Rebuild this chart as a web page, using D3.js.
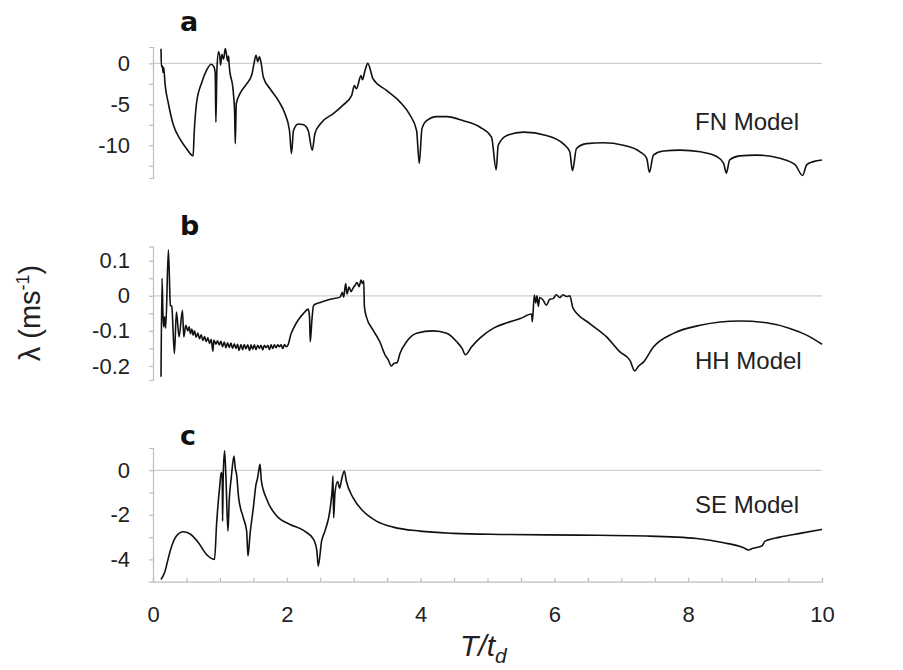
<!DOCTYPE html>
<html>
<head>
<meta charset="utf-8">
<script src="https://cdn.jsdelivr.net/npm/d3@7"></script>
<style>
  html, body { margin: 0; padding: 0; background: #fff; }
  svg { display: block; font-family: "Liberation Sans", Arial, sans-serif; }
</style>
</head>
<body>
<svg id="chart" width="903" height="670"></svg>
<script>
// ---------------- data (x = T/t_d, y = lambda) ----------------
const panelLetters = ["a", "b", "c"];
const modelNames = ["FN Model", "HH Model", "SE Model"];
const xTickLabels = [0, 2, 4, 6, 8, 10];

const fnSeries = [[0.12,1.8],[0.125,-0.4],[0.14,-0.3],[0.15,-1.1],[0.16,-0.5],[0.18,-2.5],[0.23,-4.9],[0.30,-7.4],[0.40,-9.2],[0.50,-10.4],[0.60,-11.3],[0.615,-8.6],[0.65,-4.9],[0.73,-2.3],[0.80,-0.85],[0.87,-0.1],[0.91,-0.4],[0.93,-1.2],[0.94,-7.2],[0.955,-0.85],[0.98,1.4],[1.0,0.7],[1.01,-0.2],[1.03,1.1],[1.055,0.5],[1.08,1.8],[1.10,1.0],[1.115,0.3],[1.13,0.9],[1.14,-0.3],[1.20,-3.5],[1.22,-6.0],[1.23,-9.8],[1.245,-4.9],[1.30,-3.7],[1.40,-2.5],[1.48,-1.3],[1.51,0],[1.54,1.0],[1.565,0.2],[1.59,0.8],[1.615,0.1],[1.65,-1.7],[1.75,-3.1],[1.87,-4.5],[1.97,-6.1],[2.04,-8.2],[2.07,-11.0],[2.10,-8.2],[2.17,-7.4],[2.25,-7.5],[2.32,-8.2],[2.38,-10.6],[2.42,-8.6],[2.50,-7.4],[2.70,-6.1],[2.84,-5.1],[2.97,-3.9],[3.01,-2.7],[3.04,-3.1],[3.11,-1.5],[3.13,-2.0],[3.17,-0.85],[3.21,0],[3.29,-1.9],[3.49,-3.3],[3.69,-4.7],[3.84,-6.3],[3.94,-8.2],[3.98,-12.2],[4.02,-8.0],[4.09,-7.0],[4.24,-6.5],[4.39,-6.5],[4.64,-7.0],[4.89,-7.8],[5.06,-9.0],[5.13,-13.0],[5.16,-10.0],[5.29,-8.8],[5.54,-8.4],[5.88,-8.8],[6.13,-9.8],[6.23,-10.8],[6.27,-13.1],[6.33,-10.4],[6.48,-9.8],[6.73,-9.7],[7.03,-10.0],[7.28,-10.8],[7.38,-11.6],[7.42,-13.3],[7.48,-11.2],[7.63,-10.7],[7.88,-10.6],[8.18,-10.8],[8.43,-11.4],[8.53,-12.2],[8.57,-13.4],[8.62,-11.8],[8.77,-11.3],[9.02,-11.2],[9.37,-11.6],[9.60,-12.4],[9.71,-13.7],[9.77,-12.4],[9.87,-12.0],[10.0,-11.8]];

const hhSeries = [[0.12,-0.231],[0.135,0.05],[0.15,-0.06],[0.16,-0.089],[0.175,-0.06],[0.19,-0.092],[0.23,0.131],[0.26,-0.027],[0.28,-0.03],[0.32,-0.165],[0.35,-0.046],[0.39,-0.117],[0.44,-0.041],[0.46,-0.117],[0.49,-0.084],
[0.52,-0.10],[0.54,-0.088],[0.56,-0.108],[0.58,-0.095],[0.60,-0.112],[0.62,-0.100],[0.645,-0.118],[0.67,-0.106],[0.695,-0.122],[0.72,-0.111],[0.745,-0.127],[0.77,-0.116],[0.795,-0.13],[0.82,-0.12],[0.845,-0.136],[0.87,-0.124],[0.895,-0.158],[0.91,-0.126],[0.94,-0.138],[0.965,-0.128],[0.99,-0.14],[1.015,-0.13],[1.04,-0.145],[1.065,-0.132],[1.09,-0.148],[1.115,-0.134],[1.14,-0.147],[1.165,-0.135],[1.19,-0.150],[1.215,-0.137],[1.24,-0.15],[1.265,-0.138],[1.285,-0.156],[1.315,-0.139],[1.34,-0.153],[1.365,-0.139],[1.39,-0.151],[1.415,-0.14],[1.445,-0.156],[1.465,-0.14],[1.49,-0.152],[1.515,-0.14],[1.54,-0.153],[1.565,-0.141],[1.59,-0.15],[1.615,-0.141],[1.64,-0.154],[1.665,-0.141],[1.69,-0.148],[1.715,-0.141],[1.74,-0.153],[1.765,-0.14],[1.79,-0.15],[1.815,-0.14],[1.84,-0.148],[1.865,-0.14],[1.89,-0.145],[1.915,-0.14],[1.94,-0.150],[1.965,-0.139],[1.99,-0.145],[2.02,-0.139],
[2.06,-0.11],[2.10,-0.093],[2.17,-0.069],[2.25,-0.05],[2.32,-0.038],[2.34,-0.06],[2.35,-0.131],[2.375,-0.07],[2.40,-0.027],[2.50,-0.019],[2.65,-0.010],[2.80,-0.003],[2.83,0.01],[2.85,-0.004],[2.88,0.035],[2.90,0.005],[2.93,0.025],[2.96,0.012],[2.99,0.022],[3.02,0.03],[3.05,0.038],[3.08,0.026],[3.11,0.045],[3.13,0.035],[3.15,0.043],[3.16,-0.031],[3.19,-0.060],[3.29,-0.098],[3.39,-0.131],[3.47,-0.169],[3.52,-0.184],[3.56,-0.200],[3.60,-0.193],[3.65,-0.19],[3.69,-0.165],[3.79,-0.131],[3.94,-0.107],[4.19,-0.100],[4.39,-0.107],[4.54,-0.131],[4.62,-0.15],[4.67,-0.168],[4.76,-0.146],[4.89,-0.12],[5.09,-0.092],[5.29,-0.077],[5.49,-0.065],[5.66,-0.052],[5.67,-0.074],[5.70,0.002],[5.72,-0.02],[5.74,0.0],[5.76,-0.03],[5.78,-0.005],[5.83,-0.012],[5.88,-0.027],[5.93,-0.01],[5.98,-0.008],[6.03,0.003],[6.08,-0.005],[6.13,0.003],[6.18,-0.002],[6.23,0.0],[6.28,-0.036],[6.53,-0.079],[6.78,-0.117],[6.98,-0.160],[7.13,-0.184],[7.20,-0.214],[7.26,-0.2],[7.33,-0.189],[7.48,-0.146],[7.78,-0.107],[8.18,-0.084],[8.77,-0.072],[9.17,-0.077],[9.52,-0.093],[9.77,-0.112],[10.0,-0.138]];

const seSeries = [[0.12,-4.9],[0.18,-4.53],[0.23,-3.93],[0.28,-3.40],[0.35,-2.95],[0.45,-2.76],[0.55,-2.85],[0.68,-3.25],[0.80,-3.78],[0.92,-4.0],[0.95,-2.43],[1.0,-0.63],[1.02,-0.1],[1.035,-0.3],[1.04,-2.28],[1.05,-0.2],[1.07,0.87],[1.09,-0.3],[1.12,-2.73],[1.14,-1.3],[1.17,-0.33],[1.21,0.64],[1.23,0.1],[1.25,-0.2],[1.28,-1.23],[1.35,-2.13],[1.40,-2.73],[1.42,-3.85],[1.45,-2.88],[1.50,-1.68],[1.54,-0.63],[1.56,-0.4],[1.58,-0.03],[1.60,0.27],[1.62,-0.48],[1.70,-1.30],[1.85,-2.05],[2.05,-2.43],[2.25,-2.70],[2.40,-3.10],[2.45,-3.63],[2.47,-4.30],[2.52,-3.18],[2.57,-2.73],[2.65,-1.68],[2.68,-0.8],[2.69,-0.26],[2.70,-2.13],[2.72,-1.0],[2.76,-0.5],[2.79,-0.8],[2.82,-0.4],[2.86,-0.03],[2.89,-0.48],[2.99,-1.23],[3.14,-1.83],[3.34,-2.28],[3.59,-2.55],[3.99,-2.73],[4.49,-2.83],[5.19,-2.88],[6.38,-2.91],[7.38,-2.95],[8.13,-3.06],[8.53,-3.25],[8.83,-3.48],[8.90,-3.58],[8.97,-3.5],[9.10,-3.40],[9.15,-3.18],[9.37,-3.0],[9.67,-2.83],[10.0,-2.65]];

const fnTicks = [-12.5, -10, -7.5, -5, -2.5, 0];
const fnTickLabels = [-10, -5, 0];
const hhTicks = [-0.2, -0.15, -0.1, -0.05, 0, 0.05, 0.1];
const hhTickLabels = [-0.2, -0.1, 0, 0.1];
const seTicks = [-4, -3, -2, -1, 0];
const seTickLabels = [-4, -2, 0];

// ---------------- drawing ----------------
const svg = d3.select("#chart");
svg.append("rect").attr("width", 903).attr("height", 670).attr("fill", "#fff");

const x = d3.scaleLinear().domain([0, 10]).range([153, 822]);

const panels = [
  { data: fnSeries, domain: [-14, 2], range: [178, 47], ticks: fnTicks, labels: fnTickLabels,
    letter: panelLetters[0], letterY: 31, name: modelNames[0], nameY: 130, fmt: d3.format("d") },
  { data: hhSeries, domain: [-0.24, 0.14], range: [380, 246.7], ticks: hhTicks, labels: hhTickLabels,
    letter: panelLetters[1], letterY: 235, name: modelNames[1], nameY: 369, fmt: d3.format(".1f") },
  { data: seSeries, domain: [-5, 1], range: [581.7, 448], ticks: seTicks, labels: seTickLabels,
    letter: panelLetters[2], letterY: 445, name: modelNames[2], nameY: 513, fmt: d3.format("d") }
];

const near = (a, b) => Math.abs(a - b) < 1e-9;

panels.forEach((p, i) => {
  const y = d3.scaleLinear().domain(p.domain).range(p.range);
  const g = svg.append("g");

  // zero line
  g.append("line")
    .attr("x1", x(0)).attr("x2", x(10))
    .attr("y1", y(0)).attr("y2", y(0))
    .attr("stroke", "#cfcfcf").attr("stroke-width", 1.2);

  // y axis
  const ax = d3.axisLeft(y)
    .tickValues(p.ticks)
    .tickSize(4)
    .tickPadding(19)
    .tickFormat(d => p.labels.some(l => near(l, d)) ? (near(d, 0) ? "0" : p.fmt(d).replace("\u2212", "-")) : "");
  const ag = g.append("g").attr("transform", `translate(${x(0)},0)`).call(ax);
  ag.select(".domain").attr("stroke", "#bdbdbd").attr("stroke-width", 1.2);
  ag.selectAll(".tick line").attr("stroke", "#bdbdbd").attr("stroke-width", 1.2);
  ag.selectAll(".tick text")
    .attr("fill", "#222")
    .style("font-size", "22px")
    .style("font-family", "'Liberation Sans', Arial, sans-serif");

  // series line
  const line = d3.line()
    .x(d => x(d[0]))
    .y(d => y(d[1]))
    .curve(d3.curveMonotoneX);
  g.append("path")
    .datum(p.data)
    .attr("fill", "none")
    .attr("stroke", "#111")
    .attr("stroke-width", 1.6)
    .attr("stroke-linejoin", "round")
    .attr("d", line);

  // panel letter
  svg.append("text")
    .attr("x", 180).attr("y", p.letterY)
    .attr("fill", "#111")
    .style("font-family", "'DejaVu Sans', Verdana, sans-serif")
    .style("font-weight", "bold")
    .style("font-size", "27px")
    .text(p.letter);

  // model name
  svg.append("text")
    .attr("x", 695).attr("y", p.nameY)
    .attr("fill", "#222")
    .style("font-size", "24px")
    .text(p.name);

  // bottom x axis on last panel
  if (i === panels.length - 1) {
    const xTicks = d3.range(0, 21).map(k => k * 0.5);
    const xa = d3.axisBottom(x)
      .tickValues(xTicks)
      .tickSize(-4)
      .tickPadding(25)
      .tickFormat(d => xTickLabels.some(l => near(l, d)) ? d3.format("d")(d) : "");
    const xg = svg.append("g").attr("transform", `translate(0,${y(-5)})`).call(xa);
    xg.select(".domain").attr("stroke", "#bdbdbd").attr("stroke-width", 1.2);
    xg.selectAll(".tick line").attr("stroke", "#bdbdbd").attr("stroke-width", 1.2);
    xg.selectAll(".tick text")
      .attr("fill", "#222")
      .style("font-size", "22px")
      .style("font-family", "'Liberation Sans', Arial, sans-serif");
  }
});

// axis titles
const yTitle = svg.append("text")
  .attr("transform", "translate(40,313) rotate(-90)")
  .attr("text-anchor", "middle")
  .attr("fill", "#222")
  .style("font-size", "29px");
yTitle.append("tspan").text("\u03bb (ms");
yTitle.append("tspan").attr("dy", -11).style("font-size", "18px").text("-1");
yTitle.append("tspan").attr("dy", 11).text(")");

const xTitle = svg.append("text")
  .attr("x", 460).attr("y", 656)
  .attr("fill", "#222")
  .style("font-size", "30px")
  .style("font-style", "italic");
xTitle.append("tspan").text("T/t");
xTitle.append("tspan").attr("dy", 7).style("font-size", "21px").text("d");
</script>
</body>
</html>
